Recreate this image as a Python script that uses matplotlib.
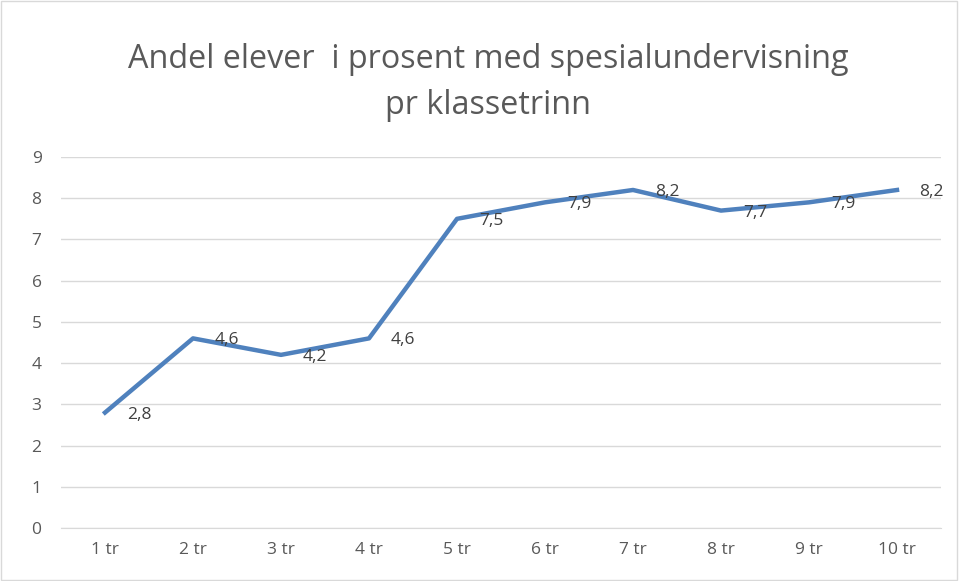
import matplotlib.pyplot as plt
from matplotlib.patches import Rectangle

plt.rcParams['font.family'] = ['Open Sans', 'DejaVu Sans']

trinn = ['1 tr', '2 tr', '3 tr', '4 tr', '5 tr', '6 tr', '7 tr', '8 tr', '9 tr', '10 tr']
andel = [2.8, 4.6, 4.2, 4.6, 7.5, 7.9, 8.2, 7.7, 7.9, 8.2]
etiketter = ['2,8', '4,6', '4,2', '4,6', '7,5', '7,9', '8,2', '7,7', '7,9', '8,2']

fig = plt.figure(figsize=(9.59, 5.81), dpi=100)
ax = fig.add_axes([61 / 959, 1 - 528 / 581, 880 / 959, 371 / 581])

x = list(range(len(trinn)))
ax.plot(x, andel, color='#4f81bd', linewidth=3.2, solid_joinstyle='round')

for xi, yi, t in zip(x, andel, etiketter):
    ax.annotate(t, (xi, yi), xytext=(22, -2), textcoords='offset pixels',
                ha='left', va='center', fontsize=12.5, color='#404040')

ax.set_xlim(-0.5, 9.5)
ax.set_ylim(0, 9)
ax.set_yticks(range(10))
ax.set_xticks(x)
ax.set_xticklabels(trinn)
ax.grid(axis='y', color='#d9d9d9', linewidth=1)
ax.set_axisbelow(True)
for s in ['top', 'right', 'left']:
    ax.spines[s].set_visible(False)
ax.spines['bottom'].set_color('#d9d9d9')
ax.tick_params(length=0, labelsize=12.5, labelcolor='#595959', pad=10)
ax.tick_params(axis='y', pad=14)

fig.text(0.509, 1 - 60 / 581, 'Andel elever  i prosent med spesialundervisning',
         ha='center', va='center', fontsize=23.3, color='#595959')
fig.text(0.509, 1 - 105 / 581, 'pr klassetrinn',
         ha='center', va='center', fontsize=23.3, color='#595959')

fig.patches.append(Rectangle((0.001, 0.001), 0.997, 0.997, transform=fig.transFigure,
                             fill=False, edgecolor='#d9d9d9', linewidth=1))

fig.savefig('out.png', dpi=100)
